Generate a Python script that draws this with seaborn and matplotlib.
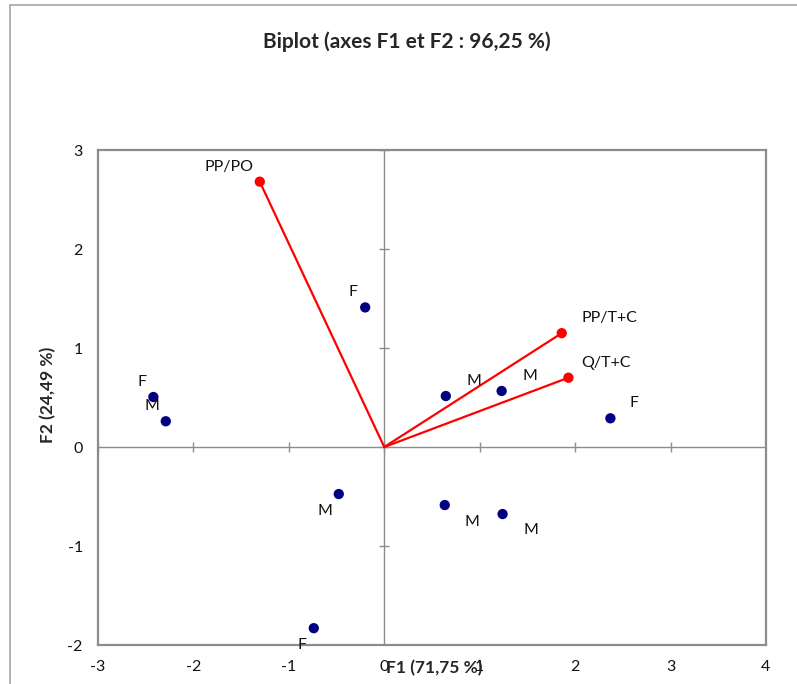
import matplotlib
matplotlib.use('Agg')
import numpy as np
import pandas as pd
import seaborn as sns
from matplotlib import pyplot as plt
from matplotlib.patches import Rectangle

# observations (F1, F2)
obs_labels = ['F', 'F', 'M', 'M', 'M', 'F', 'M', 'M', 'M', 'F']
obs_f1 = [-0.20, -2.42, -2.29, 0.645, 1.23, 2.37, -0.477, 0.634, 1.24, -0.739]
obs_f2 = [1.41, 0.505, 0.26, 0.515, 0.566, 0.29, -0.475, -0.586, -0.677, -1.83]

# variables (loadings)
var_labels = ['PP/PO', 'PP/T+C', 'Q/T+C']
var_f1 = [-1.305, 1.86, 1.93]
var_f2 = [2.68, 1.15, 0.70]

x_ticks = [-3, -2, -1, 0, 1, 2, 3, 4]
y_ticks = [-2, -1, 0, 1, 2, 3]

# label offsets in pixels (dx, dy)
obs_offsets = [(-12, 15), (-11, 15), (-14, 15), (28, 15), (28, 15),
               (24, 15), (-14, -17), (27, -17), (28, -16), (-12, -17)]
var_offsets = [(-31, 15), (48, 15), (38, 15)]


def plot():
    sns.set_style('white')
    plt.rcParams['font.family'] = ['Lato', 'DejaVu Sans']
    plt.rcParams['axes.unicode_minus'] = False

    fig = plt.figure(figsize=(7.97, 6.84), dpi=100)
    ax = fig.add_axes([0.123, 0.057, 0.838, 0.7237])

    grey = '#8c8c8c'
    ax.axhline(0, color=grey, lw=1, zorder=1)
    ax.axvline(0, color=grey, lw=1, zorder=1)
    # little tick marks on the zero axes
    ax.plot(x_ticks, [0] * len(x_ticks), ls='none', marker='|', ms=7, mew=1, color=grey, zorder=1)
    ax.plot([0] * len(y_ticks), y_ticks, ls='none', marker='_', ms=7, mew=1, color=grey, zorder=1)

    for fx, fy in zip(var_f1, var_f2):
        ax.plot([0, fx], [0, fy], color='#ff0000', lw=1.6, zorder=2)

    obs = pd.DataFrame({'F1': obs_f1, 'F2': obs_f2, 'label': obs_labels})
    var = pd.DataFrame({'F1': var_f1, 'F2': var_f2, 'label': var_labels})
    sns.scatterplot(data=obs, x='F1', y='F2', color='#000080', s=55, edgecolor='none', ax=ax, zorder=3)
    sns.scatterplot(data=var, x='F1', y='F2', color='#ff0000', s=55, edgecolor='none', ax=ax, zorder=3)

    for (lab, fx, fy), off in zip(obs[['label', 'F1', 'F2']].values, obs_offsets):
        ax.annotate(lab, (fx, fy), xytext=off, textcoords='offset pixels',
                    ha='center', va='center', fontsize=11.5, color='#111111')
    for (lab, fx, fy), off in zip(var[['label', 'F1', 'F2']].values, var_offsets):
        ax.annotate(lab, (fx, fy), xytext=off, textcoords='offset pixels',
                    ha='center', va='center', fontsize=11.5, color='#111111')

    ax.set_xlim(-3, 4)
    ax.set_ylim(-2, 3)
    ax.set_xticks(x_ticks)
    ax.set_yticks(y_ticks)
    ax.tick_params(length=0, pad=11, labelsize=11.5, colors='#111111')
    for s in ax.spines.values():
        s.set_color(grey)
        s.set_linewidth(1.6)

    # Excel places the axis title on top of the tick labels, keep it that way
    ax.set_xlabel('F1 (71,75 %)', fontsize=12.5, fontweight='bold', va='top')
    ax.xaxis.set_label_coords(0.503, -0.030)
    ax.set_ylabel('F2 (24,49 %)', fontsize=12.5, fontweight='bold')
    ax.yaxis.set_label_coords(-0.063, 0.505)

    fig.text(0.511, 0.9386, 'Biplot (axes F1 et F2 : 96,25 %)', ha='center', va='center',
             fontsize=15, fontweight='bold')

    fig.patches.append(Rectangle((10 / 797, -0.05), 1.1, 0.05 + 1 - 5 / 684, transform=fig.transFigure,
                                 fill=False, edgecolor='#a6a6a6', lw=1.2))

    plt.savefig('out.png', dpi=100)


if __name__ == '__main__':
    plot()
